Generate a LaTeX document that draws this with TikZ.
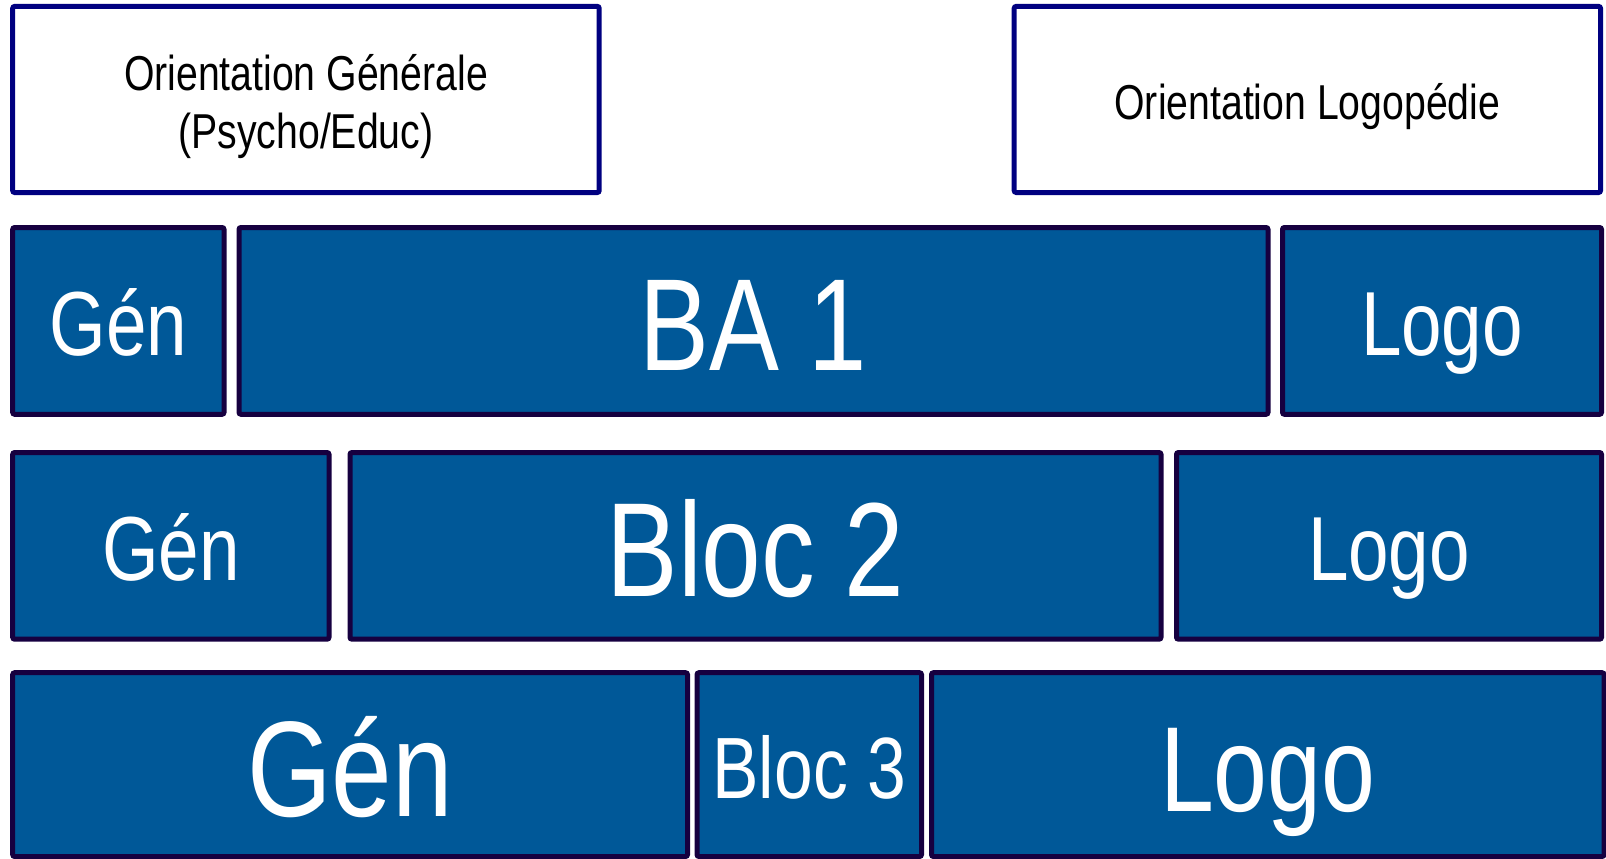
\documentclass[tikz,border=0pt]{standalone}
\usepackage{fontspec}
\setmainfont{Liberation Sans}[FakeStretch=0.8]
\definecolor{boxblue}{RGB}{0,88,152}
\definecolor{boxedge}{RGB}{22,0,64}
\definecolor{topedge}{RGB}{0,0,128}
\begin{document}
\begin{tikzpicture}[x=1pt,y=-1pt,
  bbox/.style={draw=boxedge, line width=5pt, fill=boxblue, rounded corners=2pt, text=white, inner sep=0pt, text depth=0pt},
  obox/.style={draw=topedge, line width=5pt, fill=white, rounded corners=2pt, inner sep=0pt},
  otext/.style={anchor=base, inner sep=0pt, font=\fontsize{49}{58}\selectfont},
  small/.style={font=\fontsize{91}{91}\selectfont, text height=70pt}]
\useasboundingbox (0,0) rectangle (1606,859);
% top boxes
\node[obox, minimum width=586.5pt, minimum height=186.1pt] (og) at (305.95,99.45) {};
\node[obox, minimum width=586.3pt, minimum height=186.1pt] (ol) at (1307.35,99.45) {};
\node[otext] (ogt1) at (og.center |- 0,90) {Orientation Générale};
\node[otext] (ogt2) at (og.center |- 0,148) {(Psycho/Educ)};
\node[otext] (olt) at (ol.center |- 0,119) {Orientation Logopédie};
% row 1
\node[bbox, small, minimum width=211.3pt, minimum height=186.8pt] (gen1) at (118.35,320.9) {Gén};
\node[bbox, minimum width=1029pt, minimum height=186.8pt, font=\fontsize{131}{131}\selectfont, text height=99pt] (ba1) at (753.5,320.9) {BA 1};
\node[bbox, small, minimum width=319pt, minimum height=186.8pt] (logo1) at (1442,320.9) {Logo};
% row 2
\node[bbox, small, minimum width=316.3pt, minimum height=186.7pt] (gen2) at (170.85,545.85) {Gén};
\node[bbox, minimum width=811pt, minimum height=186.7pt, font=\fontsize{134}{134}\selectfont, text height=101pt] (bloc2) at (755.5,545.85) {Bloc 2};
\node[bbox, small, minimum width=425pt, minimum height=186.7pt] (logo2) at (1389,545.85) {Logo};
% row 3
\node[bbox, minimum width=674.8pt, minimum height=183.8pt, font=\fontsize{136}{136}\selectfont, text height=103pt] (gen3) at (350.1,764.6) {Gén};
\node[bbox, minimum width=224.5pt, minimum height=183.8pt, font=\fontsize{87}{87}\selectfont, text height=68pt] (bloc3) at (809.25,764.6) {Bloc 3};
\node[bbox, minimum width=672.5pt, minimum height=183.8pt, font=\fontsize{121}{121}\selectfont, text height=93pt] (logo3) at (1267.75,764.6) {Logo};
\end{tikzpicture}
\end{document}
